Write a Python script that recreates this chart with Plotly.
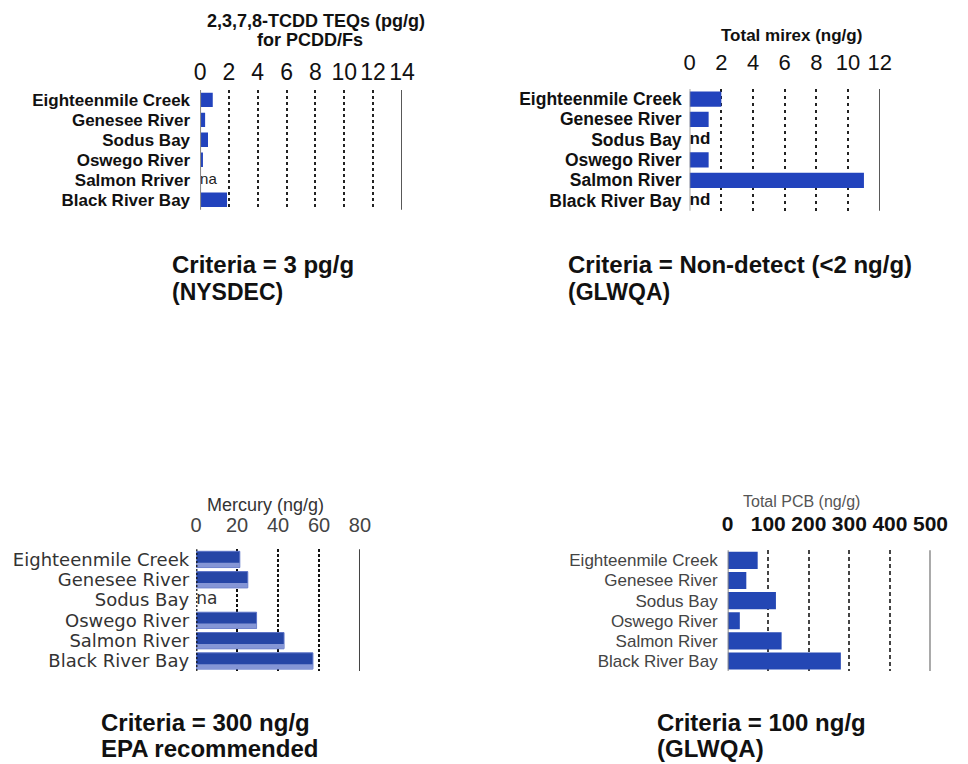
import plotly.graph_objects as go

# ---------------- data ----------------
tcdd_sites = ["Eighteenmile Creek", "Genesee River", "Sodus Bay", "Oswego River", "Salmon Rriver", "Black River Bay"]
tcdd_vals = [0.88, 0.35, 0.55, 0.2, None, 1.87]
tcdd_notes = ["", "", "", "", "na", ""]
tcdd_ticks = [0, 2, 4, 6, 8, 10, 12, 14]

mirex_sites = ["Eighteenmile Creek", "Genesee River", "Sodus Bay", "Oswego River", "Salmon River", "Black River Bay"]
mirex_vals = [2.0, 1.2, None, 1.2, 11.0, None]
mirex_notes = ["", "", "nd", "", "", "nd"]
mirex_ticks = [0, 2, 4, 6, 8, 10, 12]

hg_sites = ["Eighteenmile Creek", "Genesee River", "Sodus Bay", "Oswego River", "Salmon River", "Black River Bay"]
hg_vals = [21.3, 25.2, None, 29.5, 42.9, 57.0]
hg_notes = ["", "", "na", "", "", ""]
hg_ticks = [0, 20, 40, 60, 80]

pcb_sites = ["Eighteenmile Creek", "Genesee River", "Sodus Bay", "Oswego River", "Salmon River", "Black River Bay"]
pcb_vals = [74, 46, 119, 30, 133, 279]
pcb_ticks = [0, 100, 200, 300, 400, 500]

W, H = 968, 764
FONT = "Liberation Sans, Arial, sans-serif"


def dx(a, b):
    return [a / W, b / W]


def dy(top, bottom):
    return [1 - bottom / H, 1 - top / H]


fig = go.Figure()

# panel 1: TCDD
fig.add_trace(go.Bar(x=tcdd_vals, y=tcdd_sites, orientation="h", width=0.72,
                     marker=dict(color="#2243bd", line=dict(width=0)),
                     xaxis="x", yaxis="y", showlegend=False))
fig.add_trace(go.Scatter(x=[0] * len(tcdd_sites), y=tcdd_sites, text=tcdd_notes, mode="text",
                         textposition="middle right",
                         textfont=dict(family=FONT, size=15, color="#222"),
                         xaxis="x", yaxis="y", showlegend=False))

# panel 2: mirex
fig.add_trace(go.Bar(x=mirex_vals, y=mirex_sites, orientation="h", width=0.75,
                     marker=dict(color="#2243bd", line=dict(width=0)),
                     xaxis="x2", yaxis="y2", showlegend=False))
fig.add_trace(go.Scatter(x=[0] * len(mirex_sites), y=mirex_sites, text=mirex_notes, mode="text",
                         textposition="middle right",
                         textfont=dict(family=FONT, size=17, color="#111", weight="bold"),
                         xaxis="x2", yaxis="y2", showlegend=False))

# panel 3: mercury (two-tone bars)
fig.add_trace(go.Bar(x=hg_vals, y=hg_sites, orientation="h", width=0.8, offset=-0.4,
                     marker=dict(color="#2646a6", line=dict(width=1, color="#5b72c6")),
                     xaxis="x3", yaxis="y3", showlegend=False))
fig.add_trace(go.Bar(x=hg_vals, y=hg_sites, orientation="h", width=0.24, offset=0.16,
                     marker=dict(color="#8596d6", line=dict(width=0)),
                     xaxis="x3", yaxis="y3", showlegend=False))
fig.add_trace(go.Scatter(x=[0] * len(hg_sites), y=hg_sites, text=hg_notes, mode="text",
                         textposition="middle right",
                         textfont=dict(family="DejaVu Sans, sans-serif", size=17, color="#333"),
                         xaxis="x3", yaxis="y3", showlegend=False))

# panel 4: PCB
fig.add_trace(go.Bar(x=pcb_vals, y=pcb_sites, orientation="h", width=0.85,
                     marker=dict(color="#2447b4", line=dict(width=0)),
                     xaxis="x4", yaxis="y4", showlegend=False))


def xax(domain, ticks, anchor, size, color, weight, gridcolor, griddash, gridwidth, standoff):
    return dict(domain=domain, range=[ticks[0], ticks[-1]], side="top", anchor=anchor,
                tickmode="array", tickvals=ticks, ticktext=[str(t) for t in ticks],
                showgrid=True, gridcolor=gridcolor, griddash=griddash, gridwidth=gridwidth,
                zeroline=False, showline=False, ticks="", ticklabelstandoff=standoff,
                ticklabeloverflow="allow",
                tickfont=dict(family=FONT, size=size, color=color, weight=weight),
                fixedrange=True)


def yax(domain, cats, anchor, family, size, color, weight, standoff):
    return dict(domain=domain, anchor=anchor, type="category", categoryorder="array",
                categoryarray=cats, autorange="reversed", showgrid=False, zeroline=False,
                tickmode="array", tickvals=cats, ticktext=cats,
                showline=False, ticks="", ticklabelstandoff=standoff,
                tickfont=dict(family=family, size=size, color=color, weight=weight),
                fixedrange=True)


layout = dict(
    width=W, height=H, autosize=False, margin=dict(l=0, r=0, t=0, b=0),
    paper_bgcolor="white", plot_bgcolor="rgba(0,0,0,0)",
    barmode="overlay", bargap=0.2,
    xaxis=xax(dx(199, 406), tcdd_ticks, "y", 23, "#111", "normal", "#222", "3px,3px", 1.5, 4),
    yaxis=yax(dy(89, 209), tcdd_sites, "x", FONT, 17, "#111", "bold", 9),
    xaxis2=xax(dx(701, 896), mirex_ticks, "y2", 22, "#111", "normal", "#222", "3px,4px", 1.5, 13),
    yaxis2=yax(dy(88, 210), mirex_sites, "x2", FONT, 17.5, "#111", "bold", 7),
    xaxis3=xax(dx(195, 363), hg_ticks, "y3", 20, "#444", "normal", "#111", "3px,2px", 2, 12),
    yaxis3=yax(dy(549, 671), hg_sites, "x3", "DejaVu Sans, sans-serif", 18, "#333", "normal", 6),
    xaxis4=xax(dx(740, 948), pcb_ticks, "y4", 21, "#111", "bold", "#444", "4px,3px", 2, 14),
    yaxis4=yax(dy(550, 671), pcb_sites, "x4", FONT, 17, "#444", "normal", 9),
)
fig.update_layout(**layout)

# frame lines at the axis ends (left axis line and right reference line)
edges = [
    ("x", "y", tcdd_ticks[0], "#8a8a8a", 2, "solid"),
    ("x", "y", tcdd_ticks[-1], "#333", 1.5, "solid"),
    ("x2", "y2", mirex_ticks[0], "#8a8a8a", 1.5, "solid"),
    ("x2", "y2", mirex_ticks[-1], "#222", 1.5, "solid"),
    ("x3", "y3", hg_ticks[0], "#111", 2.5, "2px,2px"),
    ("x3", "y3", hg_ticks[-1], "#444", 2, "solid"),
    ("x4", "y4", pcb_ticks[0], "#8a8a8a", 2, "solid"),
    ("x4", "y4", pcb_ticks[-1], "#555", 2, "solid"),
]
for xr, yr, xv, col, w, dash in edges:
    fig.add_shape(type="line", xref=xr, yref=yr + " domain", x0=xv, x1=xv, y0=0, y1=1,
                  line=dict(color=col, width=w, dash=dash), layer="above")


def note(text, px, py, size, color="#111", weight="normal", xanchor="center"):
    fig.add_annotation(text=text, x=px / W, y=1 - py / H, xref="paper", yref="paper",
                       xanchor=xanchor, yanchor="middle", showarrow=False,
                       font=dict(family=FONT, size=size, color=color, weight=weight))


# axis titles
note("2,3,7,8-TCDD TEQs (pg/g)", 318, 20, 18, "#111", "bold")
note("for PCDD/Fs", 312, 39, 18, "#111", "bold")
note("Total mirex (ng/g)", 805, 35, 17, "#111", "bold")
note("Mercury (ng/g)", 266, 505, 18, "#333")
note("Total PCB (ng/g)", 816, 501, 16, "#555")

# criteria captions
note("Criteria = 3 pg/g", 168, 264, 24, "#111", "bold", "left")
note("(NYSDEC)", 168, 291, 23, "#111", "bold", "left")
note("Criteria = Non-detect (<2 ng/g)", 574, 264, 24, "#111", "bold", "left")
note("(GLWQA)", 574, 291, 23, "#111", "bold", "left")
note("Criteria = 300 ng/g", 95, 722, 24, "#111", "bold", "left")
note("EPA recommended", 95, 748, 24, "#111", "bold", "left")
note("Criteria = 100 ng/g", 665, 722, 24, "#111", "bold", "left")
note("(GLWQA)", 665, 748, 24, "#111", "bold", "left")

fig.write_html(
    "out.html",
    config={"displayModeBar": False, "responsive": False},
    post_script=("document.body.style.margin='0';"
                 "document.body.style.overflow='hidden';"),
)
